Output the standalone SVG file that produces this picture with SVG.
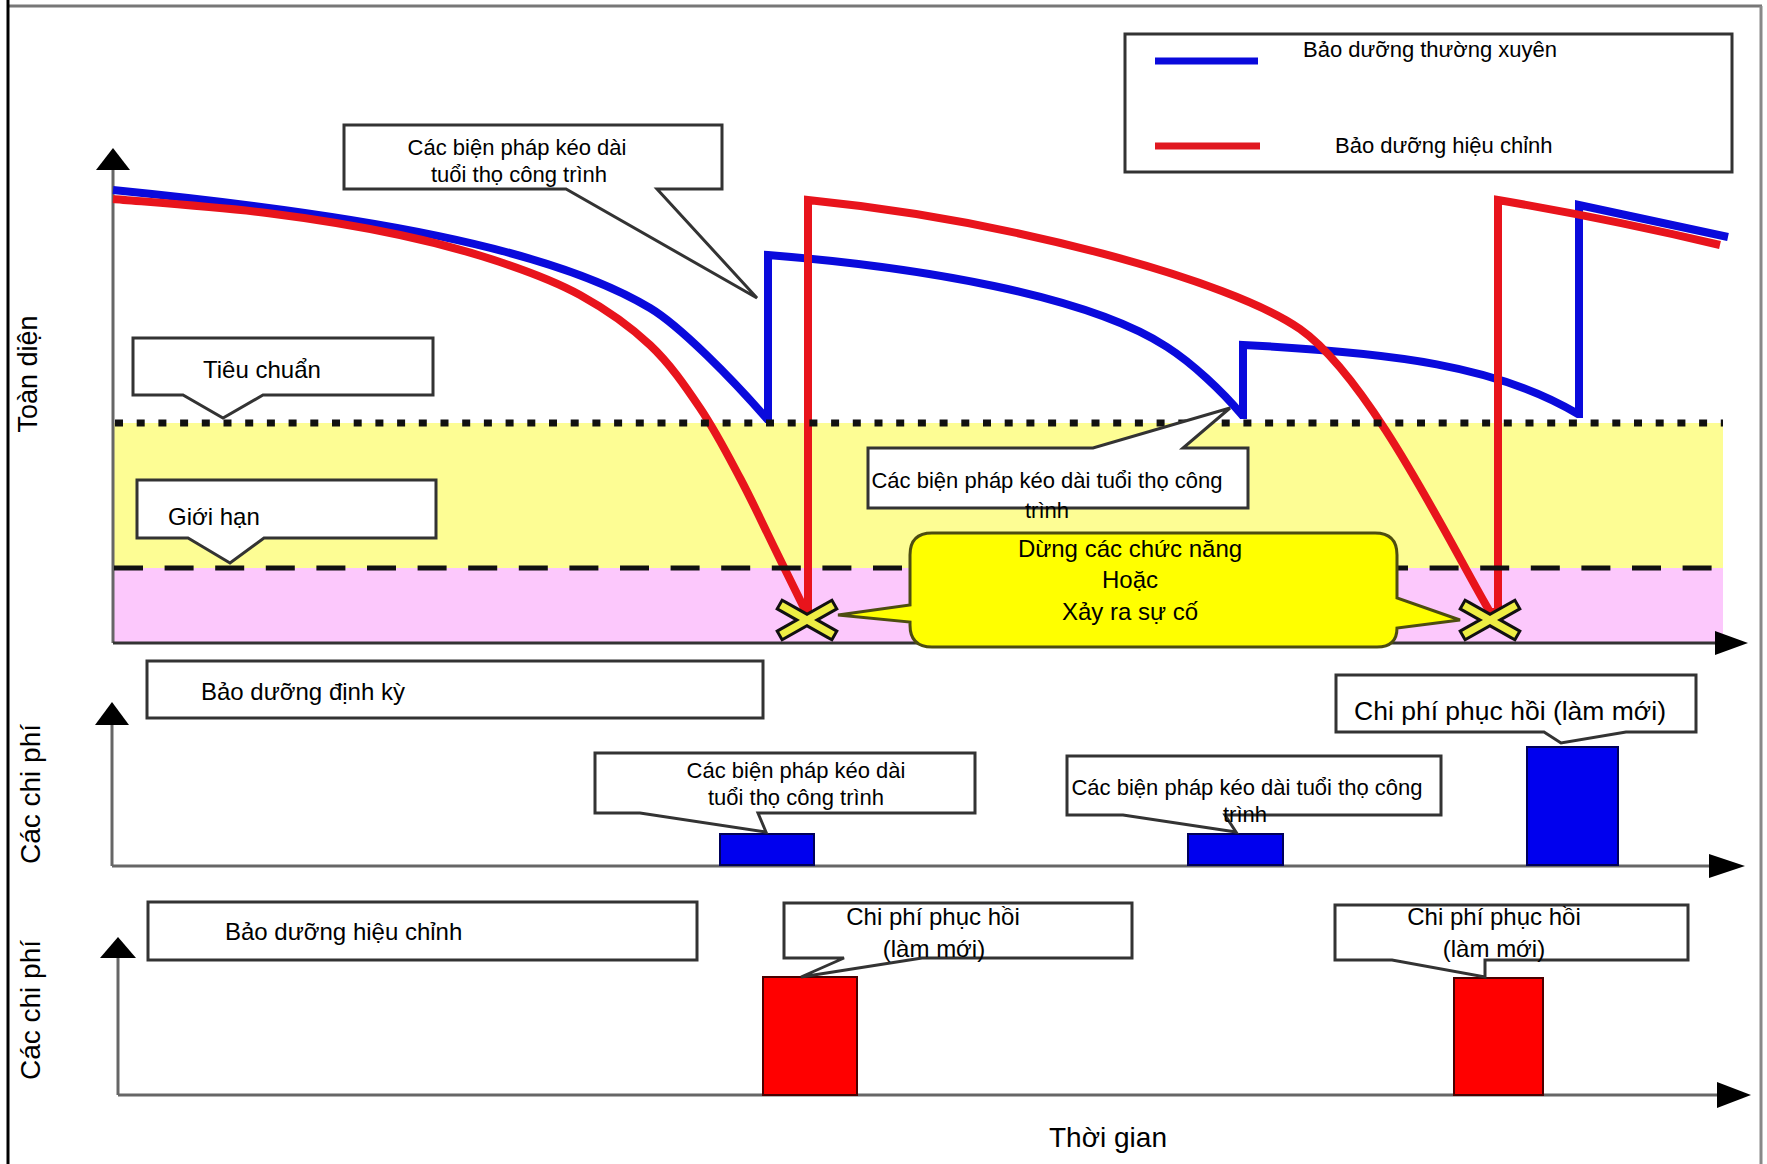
<svg xmlns="http://www.w3.org/2000/svg" width="1767" height="1164" viewBox="0 0 1767 1164">
<style>
text { font-family: "Liberation Sans", Arial, sans-serif; fill: #000; }
.box { fill: #fff; stroke: #333; stroke-width: 3; stroke-linejoin: miter; }
.axis { stroke: #666; stroke-width: 3; fill: none; }
.arr { fill: #000; }
.blue { stroke: #0a0adc; stroke-width: 8; fill: none; stroke-linejoin: miter; }
.red { stroke: #e8141c; stroke-width: 8; fill: none; stroke-linejoin: miter; }
.bbar { fill: #0000ee; stroke: #00005a; stroke-width: 2; }
.rbar { fill: #ff0000; stroke: #4a0000; stroke-width: 2; }
.f22 { font-size: 22px; }
.f24 { font-size: 24px; }
.f28 { font-size: 28px; }
.mid { text-anchor: middle; }
</style>
<defs>
<g id="xm">
<path d="M-23,-13 L23,13 M-23,13 L23,-13" stroke="#111" stroke-width="13" stroke-linecap="square" fill="none"/>
<path d="M-23,-13 L23,13 M-23,13 L23,-13" stroke="#eeee44" stroke-width="7" stroke-linecap="square" fill="none"/>
</g>
</defs>
<rect x="0" y="0" width="1767" height="1164" fill="#fff"/>
<g id="frame">
<line x1="8" y1="6" x2="1762" y2="6" stroke="#777" stroke-width="3"/>
<line x1="1761" y1="6" x2="1761" y2="1164" stroke="#888" stroke-width="3"/>
<line x1="8" y1="0" x2="8" y2="1164" stroke="#000" stroke-width="3"/>
</g>
<g id="bands">
<rect x="113" y="423" width="1610" height="145" fill="#fdfd94"/>
<rect x="113" y="568" width="1610" height="75" fill="#fcc8fc"/>
</g>
<g id="axes">
<line class="axis" x1="113" y1="168" x2="113" y2="643"/>
<line x1="113" y1="643" x2="1717" y2="643" stroke="#333" stroke-width="3"/>
<polygon class="arr" points="113,148 96,170 130,170"/>
<polygon class="arr" points="1715,631 1748,643 1715,655"/>
<line class="axis" x1="112" y1="723" x2="112" y2="866"/>
<line class="axis" x1="112" y1="866" x2="1711" y2="866"/>
<polygon class="arr" points="112,702 95,725 129,725"/>
<polygon class="arr" points="1709,854 1745,866 1709,878"/>
<line class="axis" x1="118" y1="956" x2="118" y2="1095"/>
<line class="axis" x1="118" y1="1095" x2="1719" y2="1095"/>
<polygon class="arr" points="118,937 100,958 136,958"/>
<polygon class="arr" points="1717,1082 1751,1095 1717,1108"/>
</g>
<g id="curves">
<path class="blue" d="M113,190 C363,215 550,248 650,308 C680,326 732,378.75 767,419 L768,419 L768,255 C918,267 1087,295 1167,347 C1192,363 1222,391 1242,415 L1243,415 L1243,345 C1393,352.5 1498,366 1578,414 L1579,414 L1579,205 L1728,237"/>
<path class="red" d="M113,199 C138.7,201.3 219.2,207 267,213 C314.8,219 361.2,226.8 400,235 C438.8,243.2 470,252 500,262 C530,272 555,281.2 580,295 C605,308.8 630,326.2 650,345 C670,363.8 685,385.8 700,408 C715,430.2 727.5,454.5 740,478 C752.5,501.5 764,526.7 775,549 C786,571.3 800.8,601.5 806,612 L808,612 L808,200 C1008,220 1230,280 1300,329 C1370,378 1450,544 1490,612 L1498,612 L1498,200 Q1610,219 1720,245"/>
</g>
<g id="levels">
<line x1="115" y1="423" x2="1723" y2="423" stroke="#111" stroke-width="7" stroke-dasharray="8 13.7"/>
<line x1="114" y1="568" x2="1715" y2="568" stroke="#111" stroke-width="5" stroke-dasharray="29 21.6"/>
</g>
<g id="failure-marks">
<use href="#xm" x="807" y="620"/>
<use href="#xm" x="1490" y="620"/>
</g>
<g id="legend">
<rect class="box" x="1125" y="34" width="607" height="138" stroke="#222"/>
<line x1="1155" y1="61" x2="1258" y2="61" stroke="#0a0adc" stroke-width="7"/>
<line x1="1155" y1="146" x2="1260" y2="146" stroke="#e01820" stroke-width="7"/>
<text class="f22" x="1303" y="57">Bảo dưỡng thường xuyên</text>
<text class="f22" x="1335" y="153">Bảo dưỡng hiệu chỉnh</text>
</g>
<g id="callout-top">
<path class="box" d="M344,125 H722 V189 H657 L757,298 L566,189 H344 Z"/>
<text class="f22 mid" x="517" y="155">Các biện pháp kéo dài</text>
<text class="f22 mid" x="519" y="182">tuổi thọ công trình</text>
</g>
<g id="callout-standard">
<path class="box" d="M133,338 H433 V395 H263 L223,418 L183,395 H133 Z"/>
<text class="f24" x="203" y="378">Tiêu chuẩn</text>
</g>
<g id="callout-limit">
<path class="box" d="M137,480 H436 V538 H264 L230,563 L188,538 H137 Z" stroke="#55552a"/>
<text class="f24" x="168" y="525">Giới hạn</text>
</g>
<g id="callout-mid">
<path class="box" d="M868,448 H1093 L1230,408 L1183,448 H1248 V508 H868 Z" stroke="#222"/>
<text class="f22 mid" x="1047" y="488">Các biện pháp kéo dài tuổi thọ công</text>
<text class="f22 mid" x="1047" y="518">trình</text>
</g>
<g id="bubble">
<path d="M932,533 H1375 Q1397,533 1397,555 V598 L1460,620 L1397,628 Q1397,647 1377,647 H932 Q910,647 910,625 V622 L838,615 L910,605 V555 Q910,533 932,533 Z" fill="#ffff00" stroke="#4d4d10" stroke-width="3"/>
<text class="f24 mid" x="1130" y="557">Dừng các chức năng</text>
<text class="f24 mid" x="1130" y="588">Hoặc</text>
<text class="f24 mid" x="1130" y="620">Xảy ra sự cố</text>
</g>
<g id="panel-periodic">
<rect class="box" x="147" y="661" width="616" height="57"/>
<text class="f24" x="201" y="700">Bảo dưỡng định kỳ</text>
<rect class="bbar" x="720" y="834" width="94" height="31"/>
<rect class="bbar" x="1188" y="834" width="95" height="31"/>
<rect class="bbar" x="1527" y="747" width="91" height="118"/>
<path class="box" d="M595,753 H975 V813 H758 L766,832 L640,813 H595 Z"/>
<text class="f22 mid" x="796" y="778">Các biện pháp kéo dài</text>
<text class="f22 mid" x="796" y="805">tuổi thọ công trình</text>
<path class="box" d="M1067,756 H1441 V815 H1225 L1236,832 L1123,815 H1067 Z"/>
<text class="f22 mid" x="1247" y="795">Các biện pháp kéo dài tuổi thọ công</text>
<text class="f22 mid" x="1245" y="822">trình</text>
<path class="box" d="M1336,675 H1696 V732 H1626 L1561,743 L1544,732 H1336 Z"/>
<text class="mid" x="1510" y="720" font-size="26.5">Chi phí phục hồi (làm mới)</text>
</g>
<g id="panel-corrective">
<rect class="box" x="148" y="902" width="549" height="58"/>
<text class="f24" x="225" y="940">Bảo dưỡng hiệu chỉnh</text>
<rect class="rbar" x="763" y="977" width="94" height="118"/>
<rect class="rbar" x="1454" y="978" width="89" height="117"/>
<path class="box" d="M784,903 H1132 V958 H922 L801,977 L844,958 H784 Z"/>
<text class="f24 mid" x="933" y="925">Chi phí phục hồi</text>
<text class="f24 mid" x="934" y="957">(làm mới)</text>
<path class="box" d="M1335,905 H1688 V960 H1485 V977 L1392,960 H1335 Z"/>
<text class="f24 mid" x="1494" y="925">Chi phí phục hồi</text>
<text class="f24 mid" x="1494" y="957">(làm mới)</text>
</g>
<g id="axis-labels">
<text class="mid" font-size="27" transform="translate(37,374) rotate(-90)">Toàn diện</text>
<text class="f28 mid" transform="translate(40,794) rotate(-90)">Các chi phí</text>
<text class="f28 mid" transform="translate(40,1010) rotate(-90)">Các chi phí</text>
<text class="f28 mid" x="1108" y="1147">Thời gian</text>
</g>
</svg>
